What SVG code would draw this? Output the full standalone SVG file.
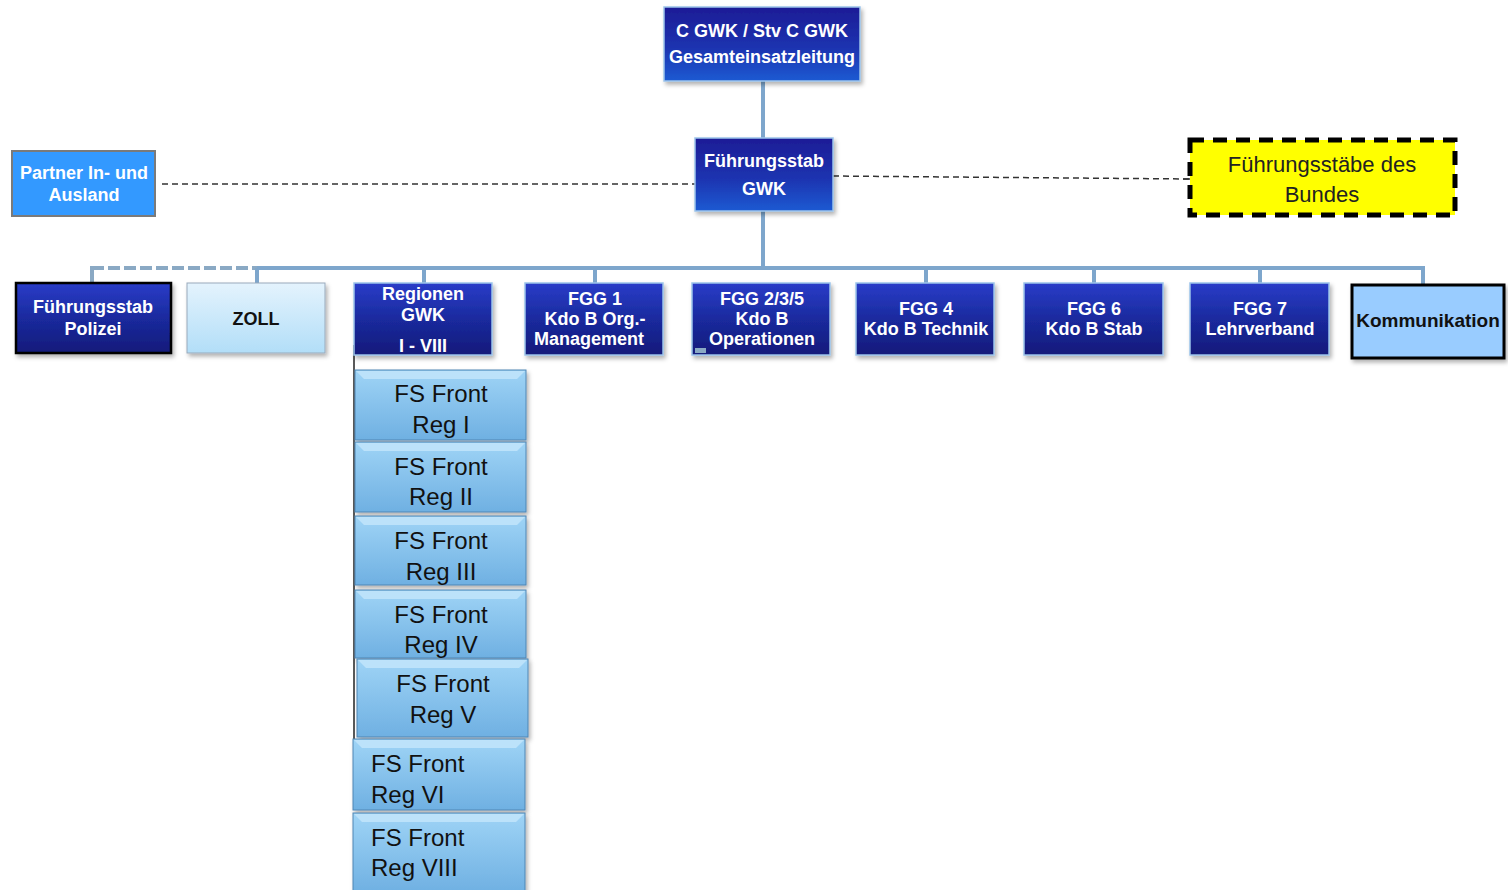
<svg xmlns="http://www.w3.org/2000/svg" width="1508" height="890" viewBox="0 0 1508 890">
<defs>
<linearGradient id="navy" x1="0" y1="0" x2="0" y2="1">
<stop offset="0" stop-color="#1c1c96"/><stop offset="0.55" stop-color="#1f33b0"/><stop offset="1" stop-color="#1f5ad2"/>
</linearGradient>
<linearGradient id="navy2" x1="0" y1="0" x2="0" y2="1">
<stop offset="0" stop-color="#2a3cc8"/><stop offset="0.5" stop-color="#1a2a9e"/><stop offset="1" stop-color="#151a7a"/>
</linearGradient>
<linearGradient id="zoll" x1="0" y1="0" x2="0" y2="1">
<stop offset="0" stop-color="#e4f3fd"/><stop offset="1" stop-color="#b2def8"/>
</linearGradient>
<linearGradient id="btn" x1="0" y1="0" x2="0" y2="1">
<stop offset="0" stop-color="#9fd4f6"/><stop offset="1" stop-color="#6fb0e2"/>
</linearGradient>
<filter id="sh" x="-10%" y="-10%" width="125%" height="130%">
<feDropShadow dx="2" dy="3" stdDeviation="2" flood-color="#000" flood-opacity="0.3"/>
</filter>
</defs>
<style>
.t{font-family:"Liberation Sans",Arial,sans-serif;font-weight:bold;fill:#fff;text-anchor:middle;font-size:18px}
.tb{font-family:"Liberation Sans",Arial,sans-serif;fill:#111;text-anchor:middle;font-size:24px}
.tl{font-family:"Liberation Sans",Arial,sans-serif;fill:#111;font-size:24px}
.nv{fill:url(#navy2);stroke:#9cc4ea;stroke-width:1.5;filter:url(#sh)}
.fs{fill:url(#btn);stroke:#4f86b4;stroke-width:1;filter:url(#sh)}
.bev{fill:#c4e6fb;opacity:0.8}
.bus{stroke:#7ea6cc;stroke-width:4;fill:none}
</style>
<rect width="1508" height="890" fill="#fff"/>
<g id="connectors">
<line class="bus" x1="763" y1="81" x2="763" y2="138"/>
<line class="bus" x1="763" y1="211" x2="763" y2="268"/>
<line x1="162" y1="184" x2="695" y2="184" stroke="#333" stroke-width="1.5" stroke-dasharray="6,4"/>
<line x1="833" y1="176" x2="1190" y2="179" stroke="#333" stroke-width="1.5" stroke-dasharray="6,4"/>
<line x1="1190" y1="179" x2="1183" y2="179" stroke="#333" stroke-width="1.5"/>
<line x1="92" y1="268" x2="262" y2="268" stroke="#8aa9c4" stroke-width="4" stroke-dasharray="12,4"/>
<line class="bus" x1="257" y1="268" x2="1425" y2="268"/>
<line x1="92" y1="266" x2="92" y2="283" stroke="#8aa9c4" stroke-width="4"/>
<line class="bus" x1="257" y1="268" x2="257" y2="283"/>
<line class="bus" x1="424" y1="268" x2="424" y2="283"/>
<line class="bus" x1="595" y1="268" x2="595" y2="283"/>
<line class="bus" x1="926" y1="268" x2="926" y2="283"/>
<line class="bus" x1="1094" y1="268" x2="1094" y2="283"/>
<line class="bus" x1="1260" y1="268" x2="1260" y2="283"/>
<line class="bus" x1="1423" y1="266" x2="1423" y2="285"/>
<line x1="354" y1="345" x2="354" y2="740" stroke="#222" stroke-width="1.5"/>
</g>
<g id="top">
<rect x="664" y="7" width="196" height="74" fill="url(#navy)" stroke="#9cc4ea" stroke-width="1.5" filter="url(#sh)"/>
<text class="t" x="762" y="37">C GWK / Stv C GWK</text>
<text class="t" x="762" y="63">Gesamteinsatzleitung</text>
</g>
<g id="fuehrungsstab-gwk">
<rect x="695" y="138" width="138" height="73" fill="url(#navy)" stroke="#9cc4ea" stroke-width="1.5" filter="url(#sh)"/>
<text class="t" x="764" y="167">Führungsstab</text>
<text class="t" x="764" y="195">GWK</text>
</g>
<g id="partner">
<rect x="12" y="151" width="143" height="65" fill="#3399ff" stroke="#7a7a7a" stroke-width="2"/>
<text class="t" x="84" y="179">Partner In- und</text>
<text class="t" x="84" y="201">Ausland</text>
</g>
<g id="bundes">
<rect x="1190" y="140" width="265" height="75" fill="#ffff00" stroke="#000" stroke-width="5" stroke-dasharray="14,9"/>
<text class="tb" x="1322" y="172" style="fill:#222;font-size:22px">Führungsstäbe des</text>
<text class="tb" x="1322" y="202" style="fill:#222;font-size:22px">Bundes</text>
</g>
<g id="polizei">
<rect x="16" y="283" width="155" height="70" fill="url(#navy2)" stroke="#000" stroke-width="2.5" filter="url(#sh)"/>
<text class="t" x="93" y="313">Führungsstab</text>
<text class="t" x="93" y="335">Polizei</text>
</g>
<g id="zoll">
<rect x="187" y="283" width="138" height="70" fill="url(#zoll)" stroke="#9ab" stroke-width="1" filter="url(#sh)"/>
<text class="t" x="256" y="325" style="fill:#111">ZOLL</text>
</g>
<g id="regionen">
<rect class="nv" x="354" y="283" width="138" height="72"/>
<text class="t" x="423" y="300">Regionen</text>
<text class="t" x="423" y="321">GWK</text>
<text class="t" x="423" y="352">I - VIII</text>
</g>
<g id="fgg1">
<rect class="nv" x="525" y="283" width="138" height="72"/>
<text class="t" x="595" y="305">FGG 1</text>
<text class="t" x="595" y="325">Kdo B Org.-</text>
<text class="t" x="589" y="345">Management</text>
</g>
<g id="fgg235">
<rect class="nv" x="692" y="283" width="138" height="72"/>
<text class="t" x="762" y="305">FGG 2/3/5</text>
<text class="t" x="762" y="325">Kdo B</text>
<text class="t" x="762" y="345">Operationen</text>
<rect x="695" y="348" width="11" height="5" fill="#8aa9c4"/>
</g>
<g id="fgg4">
<rect class="nv" x="856" y="283" width="138" height="72"/>
<text class="t" x="926" y="315">FGG 4</text>
<text class="t" x="926" y="335">Kdo B Technik</text>
</g>
<g id="fgg6">
<rect class="nv" x="1024" y="283" width="139" height="72"/>
<text class="t" x="1094" y="315">FGG 6</text>
<text class="t" x="1094" y="335">Kdo B Stab</text>
</g>
<g id="fgg7">
<rect class="nv" x="1190" y="283" width="139" height="72"/>
<text class="t" x="1260" y="315">FGG 7</text>
<text class="t" x="1260" y="335">Lehrverband</text>
</g>
<g id="kommunikation">
<rect x="1352" y="285" width="152" height="73" fill="#99ccff" stroke="#000" stroke-width="3" filter="url(#sh)"/>
<text class="t" x="1428" y="327" style="fill:#111;font-size:19px">Kommunikation</text>
</g>
<g id="fs1">
<rect class="fs" x="355" y="370" width="171" height="70"/>
<polygon class="bev" points="356,371 525,371 517,379 364,379"/>
<text class="tb" x="441" y="402">FS Front</text>
<text class="tb" x="441" y="433">Reg I</text>
</g>
<g id="fs2">
<rect class="fs" x="355" y="442" width="171" height="70"/>
<polygon class="bev" points="356,443 525,443 517,451 364,451"/>
<text class="tb" x="441" y="475">FS Front</text>
<text class="tb" x="441" y="505">Reg II</text>
</g>
<g id="fs3">
<rect class="fs" x="355" y="516" width="171" height="69"/>
<polygon class="bev" points="356,517 525,517 517,525 364,525"/>
<text class="tb" x="441" y="549">FS Front</text>
<text class="tb" x="441" y="580">Reg III</text>
</g>
<g id="fs4">
<rect class="fs" x="355" y="590" width="171" height="68"/>
<polygon class="bev" points="356,591 525,591 517,599 364,599"/>
<text class="tb" x="441" y="623">FS Front</text>
<text class="tb" x="441" y="653">Reg IV</text>
</g>
<g id="fs5">
<rect class="fs" x="357" y="659" width="171" height="78"/>
<polygon class="bev" points="358,660 527,660 519,668 366,668"/>
<text class="tb" x="443" y="692">FS Front</text>
<text class="tb" x="443" y="723">Reg V</text>
</g>
<g id="fs6">
<rect class="fs" x="353" y="739" width="172" height="71"/>
<polygon class="bev" points="354,740 524,740 516,748 362,748"/>
<text class="tl" x="371" y="772">FS Front</text>
<text class="tl" x="371" y="803">Reg VI</text>
</g>
<g id="fs8">
<rect class="fs" x="353" y="813" width="172" height="80"/>
<polygon class="bev" points="354,814 524,814 516,822 362,822"/>
<text class="tl" x="371" y="846">FS Front</text>
<text class="tl" x="371" y="876">Reg VIII</text>
</g>
</svg>
